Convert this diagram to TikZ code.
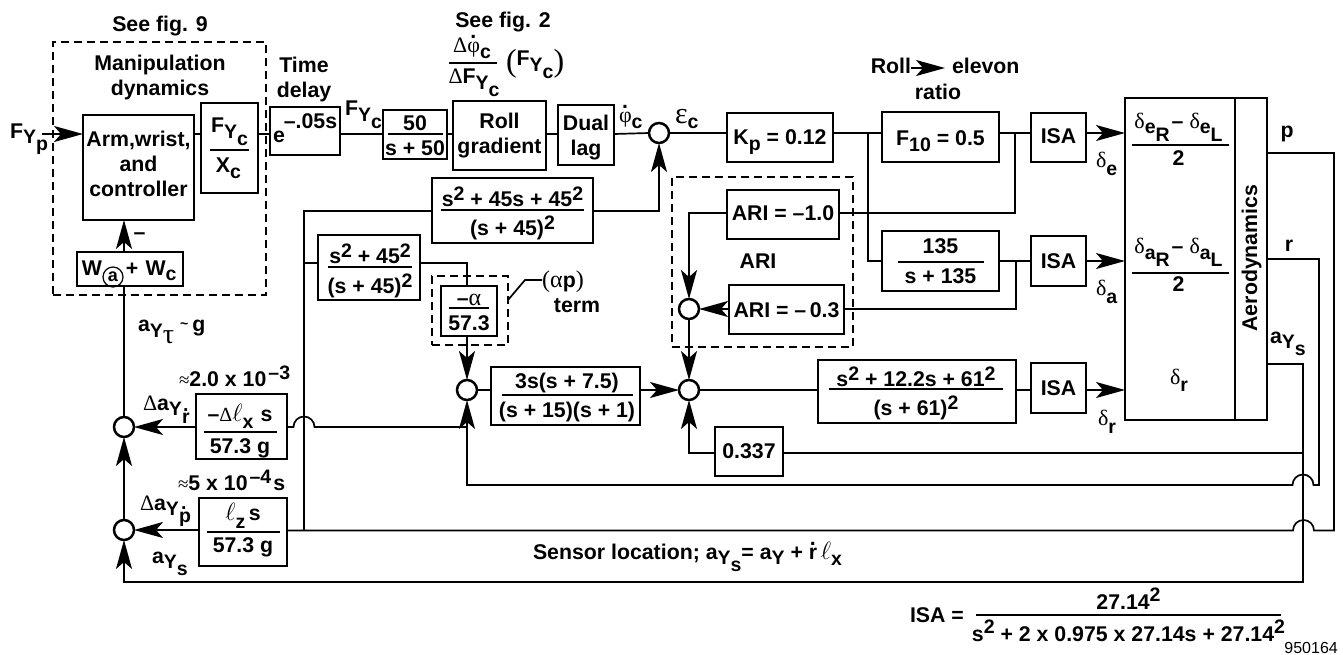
\documentclass[tikz,border=0pt]{standalone}
\usepackage{fontspec}
\setmainfont{Liberation Sans}
\newfontfamily\gk{Liberation Serif}
\usetikzlibrary{arrows.meta,calc}
\newcommand\mf{\fontsize{21.3}{24}\bfseries\selectfont}
\newcommand\dn[2]{\raisebox{-#1pt}{\fontsize{19.5}{19}\selectfont #2}}
\newcommand\up[2]{\raisebox{#1pt}{\fontsize{19.5}{19}\selectfont #2}}
\newcommand\Gk[2][22]{{\fontsize{#1}{#1}\gk\mdseries\selectfont #2}}
\newcommand\El[1][24]{{\fontsize{#1}{#1}\selectfont$\ell$}}
\newcommand\Yc{\dn{6}{Y\dn{7}{c}}}
\newcommand\Ys{\dn{5}{Y\dn{7}{s}}}
\newcommand\Pt[3]{\rlap{\kern#1pt\makebox[0pt]{\raisebox{-#2pt}[0pt][0pt]{#3}}}}
\newcommand\Br[3]{\Pt{#1}{#2}{\rule[-0.9pt]{#3pt}{1.8pt}}}
\newcommand\bx[7][box]{\node[#1,minimum width={(#5-#3)*1pt},minimum height={(#6-#4)*1pt}] (#2) at ({(#3+#5)/2},{(#4+#6)/2}) {#7};}
\newcommand\tx[5][base]{\node[txt,anchor=#1] (#2) at (#3,#4) {#5};}
\tikzset{
 box/.style={draw,line width=2.5pt,inner sep=0pt,outer sep=0pt,font=\mf},
 dbox/.style={draw,line width=2.5pt,inner sep=0pt,outer sep=0pt,dash pattern=on 8pt off 5pt},
 txt/.style={inner sep=0pt,outer sep=0pt,font=\mf},
 sumj/.style={circle,draw,line width=2.5pt,fill=white,minimum size=20pt,inner sep=0pt,outer sep=0pt},
 wire/.style={line width=1.7pt},
 arr/.style={line width=1.7pt,-{Stealth[length=29pt,width=16pt,inset=7pt]}}
}
\begin{document}
\begin{tikzpicture}[x=1pt,y=-1pt]
\useasboundingbox (0,0) rectangle (1343,654);
% level coordinates
\coordinate (yt) at (0,134);
\coordinate (y2) at (0,261);
\coordinate (y3) at (0,390);
\coordinate (xw) at (124,0);
% dashed groups
\bx[dbox]{dman}{53}{42}{266}{295}{}
\bx[dbox]{dalpha}{432}{276}{508}{345}{}
\bx[dbox]{dari}{672}{177}{853}{347}{}
% forward path boxes
\bx{arm}{83}{115}{194}{220}{\Pt{0}{-21.5}{Arm,wrist,}\Pt{0}{3.5}{and}\Pt{0}{28.5}{controller}}
\bx{fx}{201}{103}{258}{193}{\Pt{0}{-16}{F\Yc}\Br{0}{2}{39}\Pt{-1}{24}{X\dn{6}{c}}}
\bx{ed}{270}{107}{340}{155}{\Pt{-26}{11}{e}\Pt{5.5}{-3}{–.05s}}
\bx{f50}{383}{110}{447}{159}{\Br{0}{-0.5}{55}\Pt{0}{-4.5}{50}\Pt{0}{20.5}{s + 50}}
\bx{roll}{453}{101}{546}{170}{\Pt{0}{-7.5}{Roll}\Pt{0}{17.5}{gradient}}
\bx{dual}{558}{105}{614}{165}{\Pt{0}{-5}{Dual}\Pt{0}{20}{lag}}
\bx{kp}{727}{113}{833}{162}{\Pt{0}{6.5}{K\dn{6}{p} = 0.12}}
\bx{f10}{882}{112}{999}{162}{\Pt{0}{8}{F\dn{6}{10} = 0.5}}
\bx{f135}{882}{231}{999}{291}{\Pt{0}{-8}{135}\Br{0}{1}{86}\Pt{0}{22}{s + 135}}
\bx{isa1}{1031}{113}{1086}{162}{\Pt{0}{5.5}{ISA}}
\bx{isa2}{1031}{236}{1086}{286}{\Pt{0}{7}{ISA}}
\bx{isa3}{1031}{363}{1086}{413}{\Pt{0}{7}{ISA}}
\bx{surf}{1125}{98}{1235}{420}{}
\bx{aero}{1235}{98}{1267}{420}{}
\bx{ari1}{727}{190}{839}{239}{\Pt{0}{5.5}{ARI = –1.0}}
\bx{ari3}{729}{285}{844}{334}{\Pt{0}{7.5}{ARI = –\,0.3}}
\bx{sa45}{432}{178}{593}{243}{\Br{0}{-0.5}{143}\Pt{0}{-4.5}{s\up{6}{2} + 45s + 45\up{6}{2}}\Pt{0}{24.5}{(s + 45)\up{6}{2}}}
\bx{sb45}{318}{235}{420}{300}{\Br{1}{-0.5}{84}\Pt{1}{-4.5}{s\up{6}{2} + 45\up{6}{2}}\Pt{1}{25.5}{(s + 45)\up{6}{2}}}
\bx{alpha}{441}{286}{497}{336}{\Br{0}{-3}{40}\Pt{0}{-6}{–\Gk[24]{α}}\Pt{0}{19}{57.3}}
\bx{b3s}{491}{367}{640}{425}{\Br{1.5}{-1}{131}\Pt{1.5}{-8}{3s(s + 7.5)}\Pt{1.5}{21}{(s + 15)(s + 1)}}
\bx{rud}{818}{360}{1016}{423}{\Br{-1}{-2.5}{174}\Pt{-1}{-5.5}{s\up{6}{2} + 12.2s + 61\up{6}{2}}\Pt{-1}{23.5}{(s + 61)\up{6}{2}}}
\bx{g337}{715}{427}{783}{476}{\Pt{0}{6.5}{0.337}}
\bx{wbox}{77}{252}{183}{286}{\Pt{-38}{6}{W}\Pt{2}{6}{+}\Pt{31}{6}{W\dn{5}{c}}}
\bx{dlx}{196}{394}{287}{459}{\Br{-1.5}{5.5}{73}\Pt{-1.5}{-5.5}{–\Gk[20]{Δ}\El\dn{7}{x}\,\,s}\Pt{-1.5}{26.5}{57.3 g}}
\bx{lz}{199}{498}{287}{566}{\Br{0}{0}{73}\Pt{0}{-12}{\El\dn{8}{z}\,s}\Pt{0}{20}{57.3 g}}
% circled a
\node[circle,draw,line width=1.2pt,inner sep=0pt,minimum size=20pt,font=\fontsize{18}{18}\bfseries\selectfont] (wa) at (113,277) {a};
% summing junctions
\node[sumj] (s1) at (659,133) {};
\node[sumj] (s3) at (689,309) {};
\node[sumj] (s2) at (689,390) {};
\node[sumj] (sa) at (467,390) {};
\node[sumj] (su) at (124,427) {};
\node[sumj] (sb) at (124,530) {};
% texts
\tx{t1}{160}{31}{See fig. 9}
\tx{t2}{160}{70}{Manipulation}
\tx{t3}{160}{95}{dynamics}
\tx{t4}{304}{72}{Time}
\tx{t5}{304}{97}{delay}
\tx[base west]{fyp}{10}{138}{F\dn{5}{Y\dn{7}{p}}}
\tx[base west]{fyc}{345}{115}{F\Yc}
\tx{minus}{139.5}{239}{–}
\tx{t6}{503}{27}{See fig. 2}
\node[txt] (frc) at (473,63) {\Br{0}{0}{48}\Pt{-1}{-11}{\Gk{Δ}\rlap{\kern3pt\raisebox{14pt}{.}}\Gk{φ}\dn{6}{c}}\Pt{1}{20}{\Gk{Δ}F\Yc}};
\node[txt,anchor=base west] (fpar) at (506,65) {\Gk[32]{\raisebox{-6pt}{(}}F\Yc\Gk[32]{\raisebox{-6pt}{)}}};
\tx[base west]{phic}{619}{122}{\rlap{\kern3pt\raisebox{14pt}{.}}\Gk{φ}\dn{6}{c}}
\tx[base west]{epsc}{675}{123}{\Gk[30]{ε}\dn{5}{c}}
\tx[base east]{rl}{911}{73}{Roll}
\tx[base west]{el}{952}{73}{elevon}
\tx{rat}{938}{99}{ratio}
\tx{t7}{758}{268}{ARI}
\tx{alp}{563}{287}{\Gk[24]{(α}p\Gk[24]{)}}
\tx{term}{577}{312}{term}
\tx[base west]{de}{1096}{167}{\Gk{δ}\dn{8}{e}}
\tx[base west]{da}{1096}{295}{\Gk{δ}\dn{8}{a}}
\tx[base west]{dr}{1098}{425}{\Gk{δ}\dn{8}{r}}
\node[txt] (ef) at (1180.5,145) {\Br{0}{0}{97}\Pt{-2}{-17}{\Gk{δ}\dn{5}{e\dn{8}{R}}\kern2pt–\kern6pt\Gk{δ}\dn{5}{e\dn{8}{L}}}\Pt{-2}{20}{2}};
\node[txt] (af) at (1180.5,273) {\Br{0}{0}{97}\Pt{-2}{-20}{\Gk{δ}\dn{6}{a\dn{7}{R}}\kern2pt–\kern6pt\Gk{δ}\dn{6}{a\dn{7}{L}}}\Pt{-2}{18}{2}};
\tx[base west]{rdel}{1170}{384}{\Gk{δ}\dn{7}{r}}
\node[txt,rotate=90,anchor=base] (aerot) at (1257,258) {Aerodynamics};
\tx{pl}{1287}{137}{p}
\tx{rl2}{1289}{251}{r}
\tx[base west]{ays}{1270}{343}{a\Ys}
\tx[base west]{ayt}{138}{331}{a\dn{6}{Y\raisebox{-6pt}{\Gk[28]{τ}}}\kern6pt\raisebox{3pt}{\fontsize{14}{14}\selectfont\textasciitilde}\kern4pt g}
\tx[base west]{n1}{179}{386}{\Gk[19]{≈}2.0 x 10\kern2pt\up{7}{–3}}
\tx[base west]{dr1}{143}{410}{\Gk{Δ}a\dn{5}{Y\dn{8}{\rlap{\kern1pt\raisebox{12pt}{.}}r}}}
\tx[base west]{n2}{178}{490}{\Gk[19]{≈}5 x 10\kern2pt\up{7}{–4}\kern2pt s}
\tx[base west]{dp1}{140}{510}{\Gk{Δ}a\dn{5}{Y\dn{7}{\rlap{\kern2pt\raisebox{13pt}{.}}p}}}
\tx[base west]{ays2}{152}{563}{a\Ys}
\tx[base west]{sens}{533}{559}{Sensor location; a\Ys = a\dn{5}{Y} + \rlap{\kern1pt\raisebox{14pt}{.}}r\,\El\dn{6}{x}}
\tx[base west]{isaeq}{910}{622}{ISA =}
\node[txt] (isaf) at (1128.5,615) {\Br{0}{0}{305}\Pt{0}{-6}{27.14\up{8}{2}}\Pt{0}{26}{s\up{8}{2} + 2 x 0.975 x 27.14s + 27.14\up{8}{2}}};
\node[inner sep=0pt,anchor=base east,font=\fontsize{16}{16}\selectfont] (code) at (1338,653) {950164};
% forward connectors
\coordinate (fin) at (41.5,134);
\draw[arr] (fin) -- (arm.west |- yt);
\draw[wire] (arm.east |- yt) -- (fx.west |- yt);
\draw[wire] (fx.east |- yt) -- (ed.west |- yt);
\draw[wire] (ed.east |- yt) -- (f50.west |- yt);
\draw[wire] (f50.east |- yt) -- (roll.west |- yt);
\draw[wire] (roll.east |- yt) -- (dual.west |- yt);
\draw[wire] (dual.east |- yt) -- (s1.west);
\draw[wire] (s1.east) -- (kp.west |- s1);
\draw[wire] (kp.east |- s1) -- (f10.west |- s1);
\draw[wire] (f10.east |- s1) -- (isa1.west |- s1);
\draw[arr] (isa1.east |- s1) -- (surf.west |- s1);
\coordinate (j1) at (868,133);
\draw[wire] (j1) |- (f135.west |- y2);
\draw[wire] (f135.east |- y2) -- (isa2.west |- y2);
\draw[arr] (isa2.east |- y2) -- (surf.west |- y2);
\coordinate (j2) at (1015,133);
\coordinate (yari1) at (0,213);
\draw[wire] (j2) |- (ari1.east |- yari1);
\coordinate (j3) at (1016,261);
\draw[wire] (j3) |- (ari3.east |- s3);
\draw[arr] (ari1.west |- yari1) -| (s3.north);
\draw[arr] (ari3.west |- s3) -- (s3.east);
\draw[arr] (s3.south) -- (s2.north);
\draw[wire] (sa.east) -- (b3s.west |- y3);
\draw[arr] (b3s.east |- y3) -- (s2.west);
\draw[wire] (s2.east) -- (rud.west |- y3);
\draw[wire] (rud.east |- y3) -- (isa3.west |- y3);
\draw[arr] (isa3.east |- y3) -- (surf.west |- y3);
% yaw-rate and lateral feedback
\coordinate (v1) at (1303,364);
\coordinate (v2) at (1303,582);
\coordinate (v3) at (1303,453);
\draw[arr] (aero.east |- v1) -- (v1) -- (v2) -- (xw |- v2) -- (sb.south);
\draw[wire] (v3) -- (g337.east |- v3);
\draw[arr] (g337.west |- v3) -| (s2.south);
\draw[arr] (aero.east |- 0,259) -- (1319,259) -- (1319,485) -- (1313.5,485) arc[start angle=0,end angle=180,radius=10.5pt] -- (sa |- 0,485) -- (sa.south);
\draw[wire] (aero.east |- 0,153) -- (1334,153) -- (1334,530.5) -- (1314,530.5) arc[start angle=0,end angle=180,radius=10.5pt] -- (lz.east |- 0,530.5);
\coordinate (j4) at (304,530.5);
\draw[wire] (j4) |- (sa45.west |- 0,211);
\draw[arr] (sa45.east |- 0,211) -| (s1.south);
\draw[wire] (304,263) -- (sb45.west |- 0,263);
\draw[wire] (sb45.east |- 0,263) -- (sa |- 0,263) -- (sa |- alpha.north);
\draw[arr] (sa |- alpha.south) -- (sa.north);
\draw[wire] (dlx.east |- su) -- (293.5,427) arc[start angle=180,end angle=0,radius=10.5pt] -- (sa |- su);
\draw[arr] (dlx.west |- su) -- (su.east);
\draw[arr] (lz.west |- sb) -- (sb.east);
\draw[arr] (sb.north) -- (su.south);
\draw[wire] (su.north) -- (xw |- wbox.south);
\draw[arr] (xw |- wbox.north) -- (xw |- arm.south);
% leader and ratio arrow
\draw[wire] (dalpha.east |- 0,300) -- (525,280) -- (alp.west |- 0,280);
\draw[arr,shorten >=7pt] ([yshift=5pt]rl.base east) -- ([yshift=5pt]el.base west);
\end{tikzpicture}
\end{document}
